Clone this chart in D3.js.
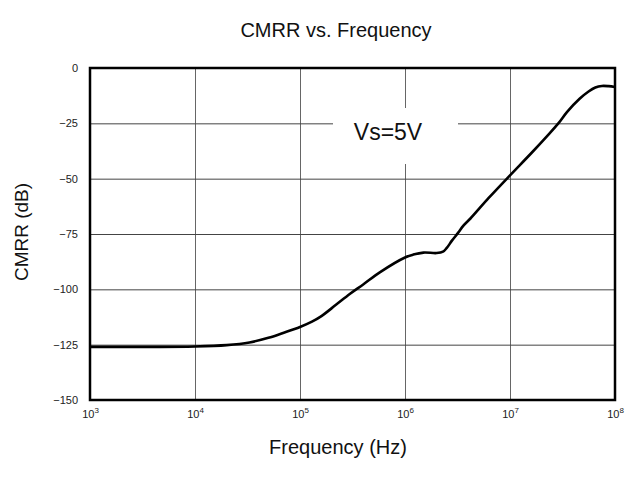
<!DOCTYPE html>
<html>
<head>
<meta charset="utf-8">
<script src="https://cdn.jsdelivr.net/npm/d3@7"></script>
<style>
  body { margin: 0; background: #fff; }
  svg { font-family: "Liberation Sans", Arial, sans-serif; }
</style>
</head>
<body>
<svg id="chart" width="625" height="480"></svg>
<script>
// CMRR curve
const freqHz = [1e3, 3.2e3, 1e4, 2e4, 3.3e4, 5e4, 6.9e4, 1e5, 1.3e5, 1.6e5, 2.2e5, 3e5, 4e5, 5.8e5,
  1e6, 1.2e6, 1.5e6, 2e6, 2.3e6, 2.5e6, 2.8e6, 3.2e6, 3.6e6, 4.2e6, 6.3e6,
  1e7, 1.6e7, 2.3e7, 2.9e7, 3.5e7, 4.6e7, 5.6e7, 6.5e7, 7.5e7, 8.7e7, 1e8];
const cmrrDb = [-126, -126, -125.8, -125.2, -124, -121.9, -119.7, -117.0, -114.6, -112.1, -107, -102, -97.8, -92.2,
  -85.6, -84.3, -83.4, -83.6, -83.0, -81.3, -78, -74.5, -71.2, -68.0, -58.6,
  -48.5, -38.4, -30.3, -24.9, -19.8, -13.9, -10.6, -8.8, -8.1, -8.2, -8.6];

const xTicks = [1e3, 1e4, 1e5, 1e6, 1e7, 1e8];
const xTickExp = ['3', '4', '5', '6', '7', '8'];
const yTicks = [0, -25, -50, -75, -100, -125, -150];

const margin = {top: 68, left: 90, right: 10, bottom: 80};
const width = 625 - margin.left - margin.right;
const height = 480 - margin.top - margin.bottom;

let svg = d3.select('#chart');
let g = svg.append('g').attr('transform', `translate(${margin.left},${margin.top})`);

let x = d3.scaleLog().domain([1e3, 1e8]).range([0, width]);
let y = d3.scaleLinear().domain([-150, 0]).range([height, 0]);

// grid lines
g.append('g')
  .attr('transform', `translate(0,${height})`)
  .call(d3.axisBottom(x).tickValues(xTicks).tickSize(-height).tickFormat(''))
  .call(a => a.select('.domain').remove())
  .selectAll('line').attr('stroke', '#666').attr('stroke-width', 1);

g.append('g')
  .call(d3.axisLeft(y).tickValues(yTicks).tickSize(-width).tickFormat(''))
  .call(a => a.select('.domain').remove())
  .selectAll('line').attr('stroke', '#444').attr('stroke-width', 1);

// tick labels
let yAxis = g.append('g')
  .call(d3.axisLeft(y).tickValues(yTicks).tickSize(0).tickPadding(12).tickFormat(d3.format('d')));
yAxis.select('.domain').remove();
yAxis.selectAll('text').attr('font-size', 11).attr('fill', '#222')
  .attr('font-family', '"Liberation Sans", Arial, sans-serif');

let xAxis = g.append('g')
  .attr('transform', `translate(0,${height})`)
  .call(d3.axisBottom(x).tickValues(xTicks).tickSize(0).tickPadding(10).tickFormat(''));
xAxis.select('.domain').remove();
xAxis.selectAll('.tick').each(function(d, i) {
  let t = d3.select(this).select('text')
    .attr('font-size', 11).attr('fill', '#222')
    .attr('font-family', '"Liberation Sans", Arial, sans-serif');
  t.append('tspan').text('10');
  t.append('tspan').attr('dy', -5).attr('font-size', 8).text(xTickExp[i]);
});

// label box "Vs=5V"
let note = g.append('g').attr('transform', `translate(${333 - margin.left},${108 - margin.top})`);
note.append('rect').attr('width', 125).attr('height', 56).attr('fill', '#fff');
note.append('text')
  .attr('x', 55).attr('y', 32)
  .attr('text-anchor', 'middle')
  .attr('font-size', 23)
  .attr('fill', '#111')
  .text('Vs=5V');

// the curve
let line = d3.line()
  .x((d, i) => x(freqHz[i]))
  .y(d => y(d))
  .curve(d3.curveCatmullRom.alpha(0.5));

g.append('path')
  .datum(cmrrDb)
  .attr('fill', 'none')
  .attr('stroke', '#000')
  .attr('stroke-width', 2.6)
  .attr('stroke-linejoin', 'round')
  .attr('d', line);

// frame
g.append('rect')
  .attr('width', width).attr('height', height)
  .attr('fill', 'none').attr('stroke', '#000').attr('stroke-width', 2.5);

// titles
svg.append('text')
  .attr('x', 336).attr('y', 37)
  .attr('text-anchor', 'middle').attr('font-size', 20).attr('fill', '#111')
  .text('CMRR vs. Frequency');

svg.append('text')
  .attr('x', 338).attr('y', 454)
  .attr('text-anchor', 'middle').attr('font-size', 20).attr('fill', '#111')
  .text('Frequency (Hz)');

svg.append('text')
  .attr('transform', 'translate(28,232)rotate(-90)')
  .attr('text-anchor', 'middle').attr('font-size', 19).attr('fill', '#111')
  .text('CMRR (dB)');
</script>
</body>
</html>
